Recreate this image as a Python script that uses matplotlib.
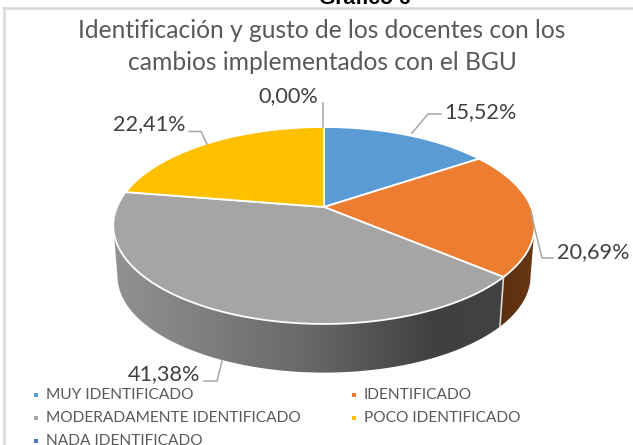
import numpy as np
import matplotlib
matplotlib.use("Agg")
import matplotlib.pyplot as plt
from matplotlib.patches import Polygon, Rectangle
from matplotlib.colors import LinearSegmentedColormap

categories = ["MUY IDENTIFICADO", "IDENTIFICADO", "MODERADAMENTE IDENTIFICADO",
              "POCO IDENTIFICADO", "NADA IDENTIFICADO"]
values = [15.52, 20.69, 41.38, 22.41, 0.00]
labels = ["15,52%", "20,69%", "41,38%", "22,41%", "0,00%"]
colors = ["#5B9BD5", "#ED7D31", "#A5A5A5", "#FFC000", "#4472C4"]
title = ["Identificación y gusto de los docentes con los",
         "cambios implementados con el BGU"]
heading = "Gráfico 6"

W, H = 633, 445
plt.rcParams["font.family"] = "Lato"
fig = plt.figure(figsize=(W / 100, H / 100), dpi=100)
ax = fig.add_axes([0, 0, 1, 1])
ax.axis("off")

CX, CY, A, B, K = 324.0, 207.0, 207.0, 95.0, 0.1875
DEPTH, SHRINK = 51.0, 0.98


def project(theta, bottom=False):
    u, v = np.sin(theta), np.cos(theta)
    w = 1 + K * v
    x, y = A * u / w, -B * v / w
    if bottom:
        return CX + SHRINK * x, CY + DEPTH + SHRINK * y
    return CX + x, CY + y


fracs = np.array(values) / sum(values)
edges = np.concatenate([[0], np.cumsum(fracs)]) * 2 * np.pi

# frame
ax.plot([3.5, 3.5], [8, H], color="#D9D9D9", lw=1.8, zorder=1)
ax.plot([3, W], [8, 8], color="#D9D9D9", lw=1.8, zorder=1)

# sides: only the front part is visible
side_cmaps = {1: LinearSegmentedColormap.from_list("o", ["#5A2E10", "#6A3714"]),
              2: LinearSegmentedColormap.from_list(
                  "g", [(0, "#929292"), (0.5, "#686868"), (0.82, "#404040"), (1, "#424242")])}
for i in (1, 2):
    t0 = max(edges[i], np.pi * 0.5 + 0.19)
    t1 = min(edges[i + 1], np.pi * 1.5 - 0.19)
    th = np.linspace(t0, t1, 200)
    xt, yt = project(th)
    xb, yb = project(th, True)
    pts = np.column_stack([np.r_[xt, xb[::-1]], np.r_[yt, yb[::-1]]])
    poly = Polygon(pts, closed=True, fc="none", ec="none")
    ax.add_patch(poly)
    x0, x1 = pts[:, 0].min(), pts[:, 0].max()
    y0, y1 = pts[:, 1].min(), pts[:, 1].max()
    grad = np.linspace(0, 1, 256)[None, :]
    im = ax.imshow(grad, extent=[x0, x1, y1, y0], cmap=side_cmaps[i], aspect="auto",
                   zorder=2, interpolation="bilinear")
    im.set_clip_path(poly)
    if i == 1:
        ax.plot([xt[-1], xb[-1]], [yt[-1], yb[-1]], color="#D8D8D8", lw=1.2, zorder=3)
ax.set_xlim(0, W)
ax.set_ylim(H, 0)

# top faces
for i, (t0, t1) in enumerate(zip(edges[:-1], edges[1:])):
    if t1 - t0 < 1e-6:
        continue
    th = np.linspace(t0, t1, 200)
    x, y = project(th)
    pts = np.column_stack([np.r_[CX, x], np.r_[CY, y]])
    ax.add_patch(Polygon(pts, closed=True, fc=colors[i], ec="white", lw=1.3,
                         joinstyle="round", zorder=4))

# data labels and leader lines
label_pos = [(480, 112), (593, 252), (164, 374), (149, 124), (288, 96)]
leaders = [[(441, 114), (428, 114), (412, 133)],
           [(553, 258), (542, 258), (531, 213)],
           [(204, 381), (217, 381), (222, 361)],
           [(189, 131.5), (201, 131.5), (207, 144)],
           [(322.5, 103), (322.5, 127)]]
for txt, pos, ld in zip(labels, label_pos, leaders):
    ax.text(pos[0], pos[1], txt, fontsize=15.6, color="#404040",
            ha="center", va="center", zorder=6)
    ax.plot(*zip(*ld), color="#A6A6A6", lw=1.1, zorder=5)

# titles
ax.text(365, 4.5, heading, fontsize=15.2, fontweight="bold", family="Liberation Sans",
        color="black", ha="center", va="baseline", zorder=6)
ax.text(322, 30, title[0], fontsize=17.7, color="#595959", ha="center", va="center", zorder=6)
ax.text(322, 62, title[1], fontsize=17.7, color="#595959", ha="center", va="center", zorder=6)

# legend
leg_pos = [(34, 395), (352, 395), (34, 417.5), (352, 417.5), (34, 441)]
for name, col, (x, y) in zip(categories, colors, leg_pos):
    ax.add_patch(Rectangle((x, y - 2), 4.2, 4.2, fc=col, ec="none", zorder=6))
    ax.text(x + 11.5, y, name, fontsize=11.2, color="#595959", ha="left", va="center", zorder=6)

fig.savefig("out.png", dpi=100)
